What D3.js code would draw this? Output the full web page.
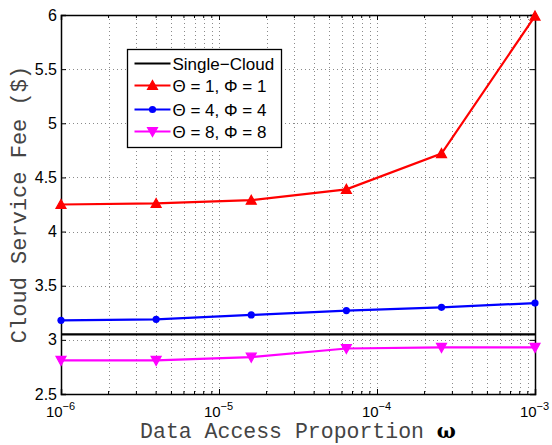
<!DOCTYPE html>
<html>
<head>
<meta charset="utf-8">
<script src="https://cdn.jsdelivr.net/npm/d3@7"></script>
<style>
  body { margin: 0; background: #fff; }
  svg { display: block; }
  .tick text { font-family: "Liberation Sans", Arial, sans-serif; font-size: 16px; fill: #000; }
  .xlab text { font-size: 15px; }
  .label { font-family: "Liberation Mono", "Courier New", monospace; font-size: 22px; fill: #444; }
  .xtitle { font-size: 21.5px; }
  .legend text { font-family: "Liberation Sans", Arial, sans-serif; font-size: 17px; fill: #000; }
</style>
</head>
<body>
<script>
const width = 552;
const height = 445;
const margin = {top: 15, right: 17, bottom: 51, left: 61};

// data
const omega = [1e-6, 4e-6, 1.6e-5, 6.4e-5, 2.56e-4, 1e-3];
const singleCloud = [3.05, 3.05, 3.05, 3.05, 3.05, 3.05];
const theta1 = [4.25, 4.26, 4.29, 4.39, 4.72, 5.99];
const theta4 = [3.18, 3.19, 3.23, 3.27, 3.30, 3.34];
const theta8 = [2.81, 2.81, 2.84, 2.92, 2.93, 2.93];
const seriesNames = ['Single\u2212Cloud', '\u0398 = 1, \u03A6 = 1', '\u0398 = 4, \u03A6 = 4', '\u0398 = 8, \u03A6 = 8'];
const yTicks = [2.5, 3, 3.5, 4, 4.5, 5, 5.5, 6];
const xTicks = [1e-6, 1e-5, 1e-4, 1e-3];
const xTickExp = ['\u22126', '\u22125', '\u22124', '\u22123'];

const series = [
    {name: seriesNames[0], values: singleCloud, color: '#000', marker: null},
    {name: seriesNames[1], values: theta1, color: '#ff0000', marker: 'up'},
    {name: seriesNames[2], values: theta4, color: '#0000ff', marker: 'dot'},
    {name: seriesNames[3], values: theta8, color: '#ff00ff', marker: 'down'}
];

const svg = d3.select('body').append('svg')
    .attr('width', width)
    .attr('height', height);

const innerW = width - margin.left - margin.right;
const innerH = height - margin.top - margin.bottom;

const x = d3.scaleLog().domain([1e-6, 1e-3]).range([margin.left, margin.left + innerW]);
const y = d3.scaleLinear().domain([2.5, 6]).range([margin.top + innerH, margin.top]);

const g = svg.append('g');

// minor x positions
const minorX = [];
for (let e = -6; e < -3; e++) {
    for (let k = 2; k <= 9; k++) minorX.push(k * Math.pow(10, e));
}

// grid
const grid = g.append('g')
    .attr('stroke', '#8a8a8a')
    .attr('stroke-width', 1)
    .attr('stroke-dasharray', '1,3');

grid.selectAll('.gx')
    .data(minorX.concat(xTicks.slice(1, -1)))
    .enter().append('line')
    .attr('x1', d => Math.round(x(d)) + 0.5)
    .attr('x2', d => Math.round(x(d)) + 0.5)
    .attr('y1', y(6))
    .attr('y2', y(2.5));

grid.selectAll('.gy')
    .data(yTicks.slice(1, -1))
    .enter().append('line')
    .attr('y1', d => Math.round(y(d)) + 0.5)
    .attr('y2', d => Math.round(y(d)) + 0.5)
    .attr('x1', x(1e-6))
    .attr('x2', x(1e-3));

// axes
const fmtX = () => '';
const xAxisB = d3.axisBottom(x).tickValues(xTicks).tickSize(-5).tickFormat(fmtX);
const xAxisT = d3.axisTop(x).tickValues(xTicks).tickSize(-5).tickFormat(fmtX);
const yAxisL = d3.axisLeft(y).tickValues(yTicks).tickSize(-5).tickPadding(4).tickFormat(d3.format('~g'));
const yAxisR = d3.axisRight(y).tickValues(yTicks).tickSize(-5).tickFormat('');

const axB = g.append('g').attr('class', 'xlab').attr('transform', `translate(0,${y(2.5)})`).call(xAxisB);
g.append('g').attr('transform', `translate(0,${y(6)})`).call(xAxisT);
g.append('g').attr('transform', `translate(${x(1e-6)},0)`).call(yAxisL);
g.append('g').attr('transform', `translate(${x(1e-3)},0)`).call(yAxisR);

// minor ticks
const minorTicks = g.append('g').attr('stroke', '#000');
minorX.forEach(v => {
    minorTicks.append('line').attr('x1', x(v)).attr('x2', x(v)).attr('y1', y(2.5)).attr('y2', y(2.5) - 3);
    minorTicks.append('line').attr('x1', x(v)).attr('x2', x(v)).attr('y1', y(6)).attr('y2', y(6) + 3);
});

g.selectAll('.domain').attr('stroke', '#000').attr('stroke-width', 1.5);
g.selectAll('.tick line').attr('stroke', '#000');

// x tick labels with exponents
axB.selectAll('.tick').each(function (d, i) {
    const t = d3.select(this).append('text')
        .attr('y', 23)
        .attr('text-anchor', 'middle')
        .attr('dx', '-1');
    t.append('tspan').text('10');
    t.append('tspan').attr('dy', -7).style('font-size', '11px').text(xTickExp[i]);
});

// lines
const line = d3.line()
    .x((d, i) => x(omega[i]))
    .y(d => y(d));

function drawMarker(sel, type, color, cx, cy) {
    if (type === 'up') {
        sel.append('path')
            .attr('d', `M${cx},${cy - 5}L${cx + 5},${cy + 4}L${cx - 5},${cy + 4}Z`)
            .attr('fill', color).attr('stroke', color).attr('stroke-width', 1.2);
    } else if (type === 'down') {
        sel.append('path')
            .attr('d', `M${cx},${cy + 5}L${cx + 5},${cy - 4}L${cx - 5},${cy - 4}Z`)
            .attr('fill', color).attr('stroke', color).attr('stroke-width', 1.2);
    } else if (type === 'dot') {
        sel.append('circle').attr('cx', cx).attr('cy', cy).attr('r', 3.6).attr('fill', color);
    }
}

series.forEach(s => {
    g.append('path')
        .datum(s.values)
        .attr('fill', 'none')
        .attr('stroke', s.color)
        .attr('stroke-width', 2.2)
        .attr('d', line);
    if (s.marker) {
        const mg = g.append('g');
        s.values.forEach((v, i) => drawMarker(mg, s.marker, s.color, x(omega[i]), y(v)));
    }
});

// legend
const legend = g.append('g').attr('class', 'legend').attr('transform', 'translate(127.5,49.5)');
legend.append('rect')
    .attr('width', 154).attr('height', 98)
    .attr('fill', '#fff').attr('stroke', '#000').attr('stroke-width', 1.3);
const rowY = [14, 36, 60, 82];
series.forEach((s, i) => {
    const row = legend.append('g').attr('transform', `translate(0,${rowY[i]})`);
    row.append('line').attr('x1', 7).attr('x2', 43).attr('y1', 0).attr('y2', 0)
        .attr('stroke', s.color).attr('stroke-width', 2.2);
    if (s.marker) drawMarker(row, s.marker, s.color, 25, 0);
    row.append('text').attr('x', 45).attr('y', 6).text(s.name);
});

// axis labels
svg.append('text')
    .attr('class', 'label xtitle')
    .attr('x', margin.left + innerW / 2)
    .attr('y', 438)
    .attr('text-anchor', 'middle')
    .html('Data Access Proportion <tspan font-weight="bold" font-family="DejaVu Serif" font-size="20px" fill="#000">\u03C9</tspan>');

svg.append('text')
    .attr('class', 'label')
    .attr('transform', `translate(26,${margin.top + innerH / 2}) rotate(-90)`)
    .attr('text-anchor', 'middle')
    .text('Cloud Service Fee ($)');
</script>
</body>
</html>
